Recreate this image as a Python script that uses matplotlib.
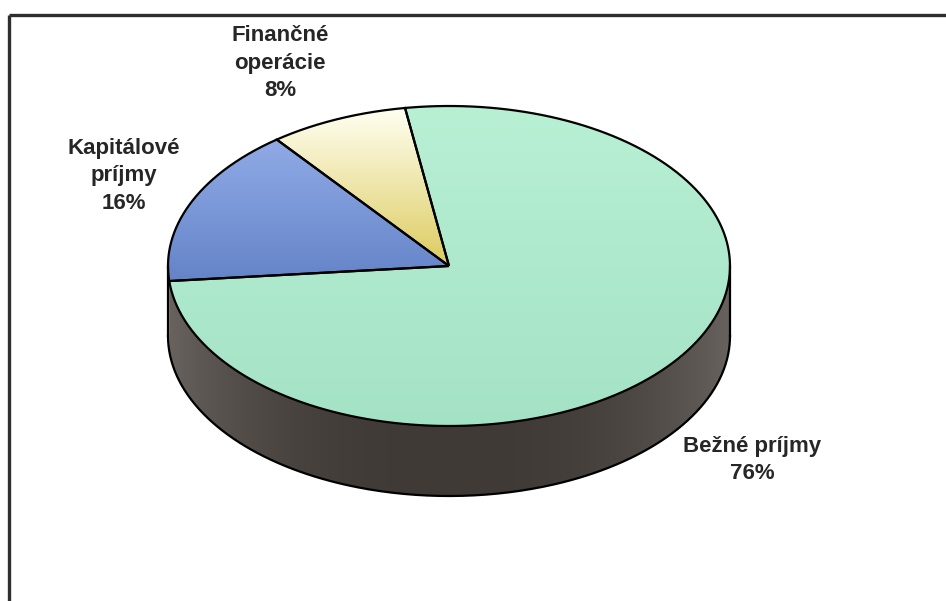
import numpy as np
import matplotlib
matplotlib.use('Agg')
import matplotlib.pyplot as plt
from matplotlib.path import Path
from matplotlib.patches import PathPatch

# ---- data ----
categories = ['Bežné príjmy', 'Kapitálové príjmy', 'Finančné operácie']
values = [76, 16, 8]
label_lines = ['Bežné príjmy', 'Kapitálové\npríjmy', 'Finančné\noperácie']

# ---- styles ----
top_colors = [('#b8f0d4', '#a4e2c6'),   # green: top -> bottom
              ('#90aae6', '#6484c8'),   # blue
              ('#fffff2', '#dccb5e')]   # yellow
side_dark = np.array([0x40, 0x3a, 0x36]) / 255.0
side_light = np.array([0x68, 0x63, 0x5f]) / 255.0
text_color = '#262626'

W, H = 946, 601
fig = plt.figure(figsize=(W / 100, H / 100), dpi=100)
ax = fig.add_axes([0, 0, 1, 1])
ax.set_xlim(0, W)
ax.set_ylim(H, 0)
ax.axis('off')

# frame (right and bottom edges are cut off in the reference)
ax.plot([9, W + 5], [15, 15], color='#2e2e2e', lw=2.4, solid_capstyle='butt')
ax.plot([9, 9], [15, H + 5], color='#2e2e2e', lw=2.4, solid_capstyle='butt')

cx, cy, a, b, depth = 449, 266, 281, 160, 70
start = 99.0  # first slice starts here, slices go clockwise

def ept(t, dy=0.0):
    r = np.radians(t)
    return cx + a * np.cos(r), cy - b * np.sin(r) + dy

total = float(sum(values))
bounds = []
t = start
for v in values:
    t2 = t - 360.0 * v / total
    bounds.append((t2, t))
    t = t2

yy, xx = np.mgrid[0:H, 0:W]

def vgrad(c_top, c_bot, y0, y1):
    ct = np.array(matplotlib.colors.to_rgb(c_top))
    cb = np.array(matplotlib.colors.to_rgb(c_bot))
    f = np.clip((yy - y0) / (y1 - y0), 0, 1)[..., None]
    return ct * (1 - f) + cb * f

# side gradient (lighter at the left/right edges)
u = np.clip(np.abs(xx - cx) / a, 0, 1)[..., None]
side_img = side_dark + (side_light - side_dark) * (u ** 2.5)

# ---- side walls (visible front part: 180..360 deg) ----
for (t0, t1) in bounds:
    for k in (-2, -1, 0, 1):
        lo, hi = 180 + 360 * k, 360 + 360 * k
        s0, s1 = max(t0, lo), min(t1, hi)
        if s1 <= s0:
            continue
        ts = np.linspace(s0, s1, 200)
        topx, topy = ept(ts)
        botx, boty = ept(ts[::-1], depth)
        verts = np.column_stack([np.r_[topx, botx], np.r_[topy, boty]])
        verts = np.vstack([verts, verts[:1]])
        patch = PathPatch(Path(verts), facecolor='none', edgecolor='none')
        ax.add_patch(patch)
        im = ax.imshow(side_img, extent=(0, W, H, 0), origin='upper',
                       interpolation='bilinear', zorder=1)
        im.set_clip_path(patch)

# side outline
ts = np.linspace(180, 360, 300)
bx, by = ept(ts, depth)
ax.plot(bx, by, color='black', lw=1.6, zorder=5)
for tt in (180, 360):
    px, py = ept(tt)
    ax.plot([px, px], [py, py + depth], color='black', lw=1.6, zorder=5)

# ---- top faces ----
for i, (t0, t1) in enumerate(bounds):
    ts = np.linspace(t0, t1, 300)
    ex, ey = ept(ts)
    verts = np.vstack([[cx, cy], np.column_stack([ex, ey]), [cx, cy]])
    patch = PathPatch(Path(verts), facecolor='none', edgecolor='black',
                      lw=1.6, zorder=6)
    ax.add_patch(patch)
    ys = ey.min()
    ye = max(ey.max(), cy)
    img = vgrad(top_colors[i][0], top_colors[i][1], ys, ye)
    im = ax.imshow(img, extent=(0, W, H, 0), origin='upper',
                   interpolation='bilinear', zorder=2)
    im.set_clip_path(patch)

ax.set_xlim(0, W)
ax.set_ylim(H, 0)

# ---- labels ----
label_pos = [(752, 460), (124, 176), (280, 63)]
for i, (lx, ly) in enumerate(label_pos):
    pct = f'{round(100 * values[i] / total)}%'
    ax.text(lx, ly, f'{label_lines[i]}\n{pct}', ha='center', va='center',
            multialignment='center', fontsize=16, fontweight='bold',
            family=['Liberation Sans', 'DejaVu Sans'], color=text_color,
            linespacing=1.4, zorder=10)

fig.savefig('out.png', dpi=100)
